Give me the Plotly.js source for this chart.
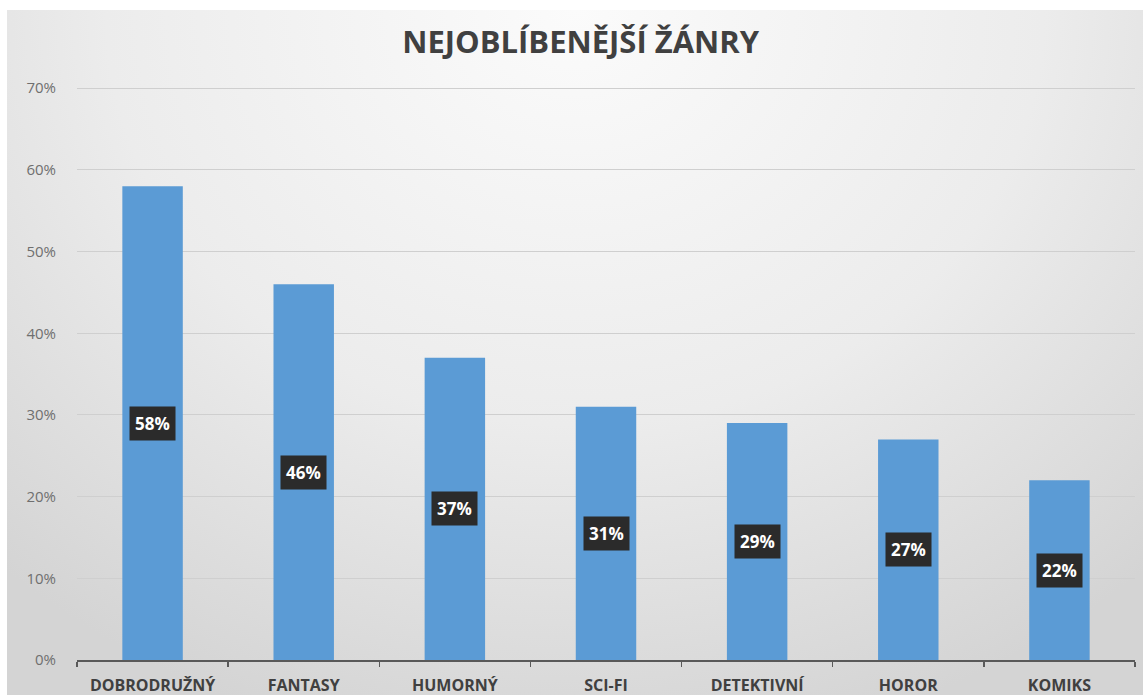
<!DOCTYPE html>
<html>
<head>
<meta charset="utf-8">
<script src="https://cdn.plot.ly/plotly-3.0.1.min.js"></script>
<style>
  html, body { margin: 0; padding: 0; background: #ffffff; }
  #bg { position: absolute; left: 7px; top: 10px; width: 1136px; height: 685px;
        background: radial-gradient(ellipse 75% 110% at 50% 0%, #fbfbfb 0%, #ececec 55%, #d4d4d4 100%); }
  #chart { position: absolute; left: 0; top: 0; width: 1143px; height: 695px; }
</style>
</head>
<body>
<div id="bg"></div>
<div id="chart"></div>
<script>
const categories = ["DOBRODRUŽNÝ", "FANTASY", "HUMORNÝ", "SCI-FI", "DETEKTIVNÍ", "HOROR", "KOMIKS"];
const values = [0.58, 0.46, 0.37, 0.31, 0.29, 0.27, 0.22];
const yTicks = [0, 0.1, 0.2, 0.3, 0.4, 0.5, 0.6, 0.7];
const titleText = "NEJOBLÍBENĚJŠÍ ŽÁNRY";

const trace = {
  type: "bar",
  x: categories,
  y: values,
  marker: { color: "#5b9bd5" },
  hoverinfo: "none"
};

const annotations = categories.map((c, i) => ({
  x: c,
  y: values[i] / 2,
  xref: "x",
  yref: "y",
  text: "<b>" + Math.round(values[i] * 100) + "%</b>",
  showarrow: false,
  font: { family: "Open Sans, DejaVu Sans, sans-serif", size: 17, color: "#ffffff" },
  bgcolor: "#2b2b2b",
  borderpad: 5
}));

const layout = {
  width: 1143,
  height: 695,
  paper_bgcolor: "rgba(0,0,0,0)",
  plot_bgcolor: "rgba(0,0,0,0)",
  margin: { l: 77, r: 8, t: 87, b: 35 },
  showlegend: false,
  bargap: 0.6,
  title: {
    text: "<b>" + titleText + "</b>",
    x: 0.508,
    xanchor: "center",
    y: 0.94,
    yanchor: "middle",
    font: { family: "Open Sans, DejaVu Sans, sans-serif", size: 31, color: "#404040" }
  },
  xaxis: {
    type: "category",
    tickson: "boundaries",
    ticks: "outside",
    ticklen: 5,
    tickcolor: "#595959",
    tickwidth: 1.5,
    showline: true,
    linecolor: "#595959",
    linewidth: 2,
    showgrid: false,
    ticklabelstandoff: 10,
    tickfont: { family: "Open Sans, DejaVu Sans, sans-serif", size: 16, color: "#404040", weight: "bold" },
    fixedrange: true
  },
  yaxis: {
    range: [0, 0.7015],
    tickvals: yTicks,
    tickformat: ".0%",
    showgrid: true,
    gridcolor: "#cfcfcf",
    gridwidth: 1,
    zeroline: false,
    showline: false,
    ticks: "",
    ticklabelstandoff: 20,
    tickfont: { family: "Open Sans, DejaVu Sans, sans-serif", size: 15, color: "#6f6f6f" },
    fixedrange: true
  },
  annotations: annotations
};

Plotly.newPlot("chart", [trace], layout, { displayModeBar: false, staticPlot: true });
</script>
</body>
</html>
